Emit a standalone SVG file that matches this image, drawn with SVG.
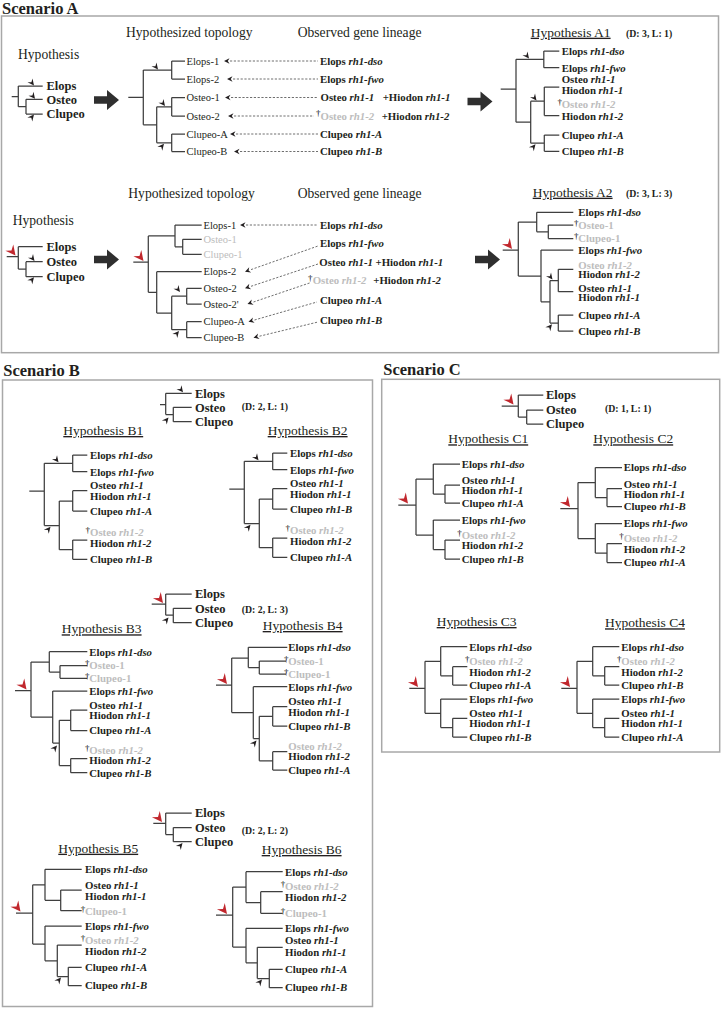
<svg xmlns="http://www.w3.org/2000/svg" xmlns:xlink="http://www.w3.org/1999/xlink" width="721" height="1009" viewBox="0 0 721 1009">
<style>
text{font-family:"Liberation Serif","Times New Roman",serif;fill:#231f20}
.sec{font-size:16.5px;font-weight:bold}
.hd{font-size:13.6px}
.hy{font-size:13.5px;text-decoration:underline}
.sp{font-size:12.5px;font-weight:bold}
.lf{font-size:10.8px;font-weight:bold}
.tp{font-size:10.5px}
.dl{font-size:9.8px;font-weight:bold}
.dg{font-size:9px;fill:#000000}
.it{font-style:italic}
text.g,.g{fill:#bdbdbd}
.t{fill:none;stroke:#3f3f3f;stroke-width:1.25}
.box{fill:none;stroke:#a8a8a8;stroke-width:1.5}
.dash{fill:none;stroke:#4a4a4a;stroke-width:0.8;stroke-dasharray:2.2 1.6}
</style>
<defs>
<path id="ah" d="M0,0 L-6.5,-3.2 L-4.2,0 L-6.5,3.2 Z" fill="#231f20"/>
<path id="rah" d="M0,0 L-10,-5 L-6.5,0 L-10,5 Z" fill="#c1272d"/>
<path id="pa" d="M0,0 L5.5,-2.8 L3.8,0 L5.5,2.8 Z" fill="#231f20"/>
<path id="fat" d="M0,-3.8 H13 V-10 L25,0 L13,10 V3.8 H0 Z" fill="#2f2f2f"/>
</defs>
<rect width="721" height="1009" fill="#ffffff"/>

<g id="frames">
<rect class="box" x="1.5" y="16" width="717" height="336.7"/>
<rect class="box" x="2.5" y="380" width="370" height="626.5"/>
<rect class="box" x="381.7" y="379.3" width="338" height="372.7"/>
<text class="sec" x="2" y="13.8">Scenario A</text>
<text class="sec" x="3.3" y="376">Scenario B</text>
<text class="sec" x="383.3" y="375">Scenario C</text>
</g>

<!-- ===== Scenario A, row 1 ===== -->
<g id="a1-hypothesis">
<text class="hd" x="18" y="59.3">Hypothesis</text>
<path class="t" d="M11.7,96.5 H18.3 M18.3,86 V106.7 M18.3,86 H42.7 M18.3,106.7 H26 M26,99.3 V114 M26,99.3 H42.7 M26,114 H42.7"/>
<text class="sp" x="46.5" y="90.3">Elops</text>
<text class="sp" x="46.5" y="103.6">Osteo</text>
<text class="sp" x="46.5" y="118.3">Clupeo</text>
<use href="#ah" transform="translate(34,85.5) rotate(52)"/>
<use href="#ah" transform="translate(35,98.8) rotate(52)"/>
<use href="#ah" transform="translate(34,114.5) rotate(-50)"/>
</g>

<g id="a1-topology">
<text class="hd" x="126" y="37.3">Hypothesized topology</text>
<path class="t" d="M128.3,97.4 H143.3 M143.3,70 V124.75 M143.3,70 H171.7 M171.7,61 V79 M171.7,61 H185 M171.7,79 H185 M143.3,124.75 H156.7 M156.7,106.75 V142.75 M156.7,106.75 H171.7 M171.7,97.5 V116 M171.7,97.5 H185 M171.7,116 H185 M156.7,142.75 H171.7 M171.7,134 V151.5 M171.7,134 H185 M171.7,151.5 H185"/>
<text class="tp" x="186.5" y="64.6">Elops-1</text>
<text class="tp" x="186.5" y="82.6">Elops-2</text>
<text class="tp" x="186.5" y="101.1">Osteo-1</text>
<text class="tp" x="186.5" y="119.6">Osteo-2</text>
<text class="tp" x="186.5" y="137.6">Clupeo-A</text>
<text class="tp" x="186.5" y="155.1">Clupeo-B</text>
<use href="#ah" transform="translate(158,69.5) rotate(52)"/>
<use href="#ah" transform="translate(165,106) rotate(52)"/>
<use href="#ah" transform="translate(164,143.8) rotate(-50)"/>
</g>

<g id="a1-observed">
<text class="hd" x="297.7" y="37.3">Observed gene lineage</text>
<text class="lf" x="320" y="64.8">Elops <tspan class="it">rh1-dso</tspan></text>
<text class="lf" x="320" y="82.8">Elops <tspan class="it">rh1-fwo</tspan></text>
<text class="lf" x="320.5" y="101.3">Osteo <tspan class="it">rh1-1</tspan></text>
<text class="lf" x="382.7" y="101.3">+Hiodon <tspan class="it">rh1-1</tspan></text>
<text class="dg" x="316" y="116">†</text>
<text class="lf g" x="320.5" y="119.8">Osteo <tspan class="it">rh1-2</tspan></text>
<text class="lf" x="381.7" y="119.8">+Hiodon <tspan class="it">rh1-2</tspan></text>
<text class="lf" x="320" y="137.8">Clupeo <tspan class="it">rh1-A</tspan></text>
<text class="lf" x="320" y="155.3">Clupeo <tspan class="it">rh1-B</tspan></text>
</g>

<g id="a1-result">
<text class="hy" x="530.7" y="36.7">Hypothesis A1</text>
<text class="dl" x="626" y="36.7">(D: 3, L: 1)</text>
<path class="t" d="M500.7,89 H516 M516,59.3 V122.2 M516,59.3 H543.8 M543.8,51 V67.7 M543.8,51 H559.3 M543.8,67.7 H559.3 M516,122.2 H530.7 M530.7,101.2 V143.2 M530.7,101.2 H544.3 M544.3,87 V115.5 M544.3,87 H559.3 M544.3,115.5 H559.3 M530.7,143.2 H544.3 M544.3,135 V151.3 M544.3,135 H559.3 M544.3,151.3 H559.3"/>
<text class="lf" x="561.7" y="54.8">Elops <tspan class="it">rh1-dso</tspan></text>
<text class="lf" x="561.7" y="71.5">Elops <tspan class="it">rh1-fwo</tspan></text>
<text class="lf" x="561.7" y="83.3">Osteo <tspan class="it">rh1-1</tspan></text>
<text class="lf" x="561.7" y="94">Hiodon <tspan class="it">rh1-1</tspan></text>
<text class="dg" x="557.4" y="105">†</text>
<text class="lf g" x="561.7" y="108.3">Osteo <tspan class="it">rh1-2</tspan></text>
<text class="lf" x="561.7" y="120">Hiodon <tspan class="it">rh1-2</tspan></text>
<text class="lf" x="561.7" y="138.8">Clupeo <tspan class="it">rh1-A</tspan></text>
<text class="lf" x="561.7" y="155">Clupeo <tspan class="it">rh1-B</tspan></text>
<use href="#ah" transform="translate(529,58.5) rotate(52)"/>
<use href="#ah" transform="translate(536.5,100.5) rotate(52)"/>
<use href="#ah" transform="translate(535.5,144.3) rotate(-50)"/>
</g>

<!-- ===== Scenario A, row 2 ===== -->
<g id="a2-hypothesis">
<text class="hd" x="12.7" y="225">Hypothesis</text>
<path class="t" d="M6.7,256.5 H18.3 M18.3,246.7 V269 M18.3,246.7 H42.7 M18.3,269 H26 M26,261.7 V276.7 M26,261.7 H42.7 M26,276.7 H42.7"/>
<text class="sp" x="46.5" y="251">Elops</text>
<text class="sp" x="46.5" y="265.6">Osteo</text>
<text class="sp" x="46.5" y="280.6">Clupeo</text>
<use href="#rah" transform="translate(15.5,255.5) rotate(52)"/>
<use href="#ah" transform="translate(34.5,261) rotate(52)"/>
<use href="#ah" transform="translate(34,277.3) rotate(-50)"/>
</g>

<g id="a2-topology">
<text class="hd" x="128.3" y="197.7">Hypothesized topology</text>
<path class="t" d="M133.3,262 H148.3 M148.3,235.9 V292.3 M148.3,235.9 H175 M175,225 V246.8 M175,225 H201.7 M175,246.8 H182.7 M182.7,239.3 V254.3 M182.7,239.3 H201.7 M182.7,254.3 H201.7 M148.3,292.3 H156.7 M156.7,271.7 V313 M156.7,271.7 H201.7 M156.7,313 H171.7 M171.7,296.2 V329.7 M171.7,296.2 H186.7 M186.7,288.3 V304 M186.7,288.3 H201.7 M186.7,304 H201.7 M171.7,329.7 H186.7 M186.7,321.7 V337.7 M186.7,321.7 H201.7 M186.7,337.7 H201.7"/>
<text class="tp" x="203.5" y="228.6">Elops-1</text>
<text class="tp g" x="203.5" y="242.9">Osteo-1</text>
<text class="tp g" x="203.5" y="257.9">Clupeo-1</text>
<text class="tp" x="203.5" y="275.3">Elops-2</text>
<text class="tp" x="203.5" y="291.9">Osteo-2</text>
<text class="tp" x="203.5" y="307.6">Osteo-2'</text>
<text class="tp" x="203.5" y="325.3">Clupeo-A</text>
<text class="tp" x="203.5" y="341.3">Clupeo-B</text>
<use href="#rah" transform="translate(143.5,261) rotate(52)"/>
<use href="#ah" transform="translate(180,292) rotate(52)"/>
<use href="#ah" transform="translate(179,331) rotate(-50)"/>
</g>

<g id="a2-observed">
<text class="hd" x="297.7" y="197.7">Observed gene lineage</text>
<text class="lf" x="320" y="228.8">Elops <tspan class="it">rh1-dso</tspan></text>
<text class="lf" x="320" y="247.3">Elops <tspan class="it">rh1-fwo</tspan></text>
<text class="lf" x="319.3" y="265.8">Osteo <tspan class="it">rh1-1</tspan></text>
<text class="lf" x="375.5" y="265.8">+Hiodon <tspan class="it">rh1-1</tspan></text>
<text class="dg" x="308" y="280.5">†</text>
<text class="lf g" x="312.7" y="284.3">Osteo <tspan class="it">rh1-2</tspan></text>
<text class="lf" x="373.3" y="284.3">+Hiodon <tspan class="it">rh1-2</tspan></text>
<text class="lf" x="320" y="303.8">Clupeo <tspan class="it">rh1-A</tspan></text>
<text class="lf" x="320" y="323.8">Clupeo <tspan class="it">rh1-B</tspan></text>
</g>

<g id="a2-result">
<text class="hy" x="532.7" y="196.7">Hypothesis A2</text>
<text class="dl" x="626" y="196.7">(D: 3, L: 3)</text>
<path class="t" d="M502.7,250 H518.3 M518.3,222 V276 M518.3,222 H536.7 M536.7,212.3 V231.75 M536.7,212.3 H573.3 M536.7,231.75 H548.3 M548.3,225 V238.5 M548.3,225 H573.3 M548.3,238.5 H573.3 M518.3,276 H541 M541,250 V301.75 M541,250 H573.3 M541,301.75 H550 M550,280.5 V323 M550,280.5 H558.3 M558.3,269.3 V291.7 M558.3,269.3 H573.3 M558.3,291.7 H573.3 M550,323 H558.3 M558.3,315 V331 M558.3,315 H573.3 M558.3,331 H573.3"/>
<text class="lf" x="578.3" y="216">Elops <tspan class="it">rh1-dso</tspan></text>
<text class="dg" x="574" y="225.5">†</text>
<text class="lf g" x="578.3" y="228.8">Osteo-1</text>
<text class="dg" x="574" y="239">†</text>
<text class="lf g" x="578.3" y="242.3">Clupeo-1</text>
<text class="lf" x="578.3" y="253.8">Elops <tspan class="it">rh1-fwo</tspan></text>
<text class="lf g" x="578.3" y="268.6">Osteo <tspan class="it">rh1-2</tspan></text>
<text class="lf" x="578.3" y="278">Hiodon <tspan class="it">rh1-2</tspan></text>
<text class="lf" x="578.3" y="291.8">Osteo <tspan class="it">rh1-1</tspan></text>
<text class="lf" x="578.3" y="301.2">Hiodon <tspan class="it">rh1-1</tspan></text>
<text class="lf" x="578.3" y="318.8">Clupeo <tspan class="it">rh1-A</tspan></text>
<text class="lf" x="578.3" y="334.8">Clupeo <tspan class="it">rh1-B</tspan></text>
<use href="#rah" transform="translate(512,249) rotate(52)"/>
<use href="#ah" transform="translate(552.5,279.5) rotate(52)"/>
<use href="#ah" transform="translate(552,324.3) rotate(-50)"/>
</g>

<g id="connectors">
<use href="#fat" transform="translate(94,100)"/>
<use href="#fat" transform="translate(467.5,101.5)"/>
<use href="#fat" transform="translate(94,259.5)"/>
<use href="#fat" transform="translate(475,259.5)"/>
<use href="#pa" transform="translate(224,61)"/>
<use href="#pa" transform="translate(227,79)"/>
<use href="#pa" transform="translate(225,97.5)"/>
<use href="#pa" transform="translate(228,116)"/>
<use href="#pa" transform="translate(230,134)"/>
<use href="#pa" transform="translate(234,151.5)"/>
<path class="dash" d="M230,61 H318 M233,79 H318 M231,97.5 H318 M234,116 H314 M236,134 H318 M240,151.5 H318"/>
<use href="#pa" transform="translate(240,225)"/>
<use href="#pa" transform="translate(245,271.7) rotate(-20)"/>
<use href="#pa" transform="translate(245,288.3) rotate(-19)"/>
<use href="#pa" transform="translate(247.5,304) rotate(-20)"/>
<use href="#pa" transform="translate(248.5,321.7) rotate(-17)"/>
<use href="#pa" transform="translate(253.5,337.7) rotate(-15)"/>
<path class="dash" d="M246,225 H317 M251,269.6 L318,246 M251,286.3 L318,264 M253.5,302 L311,282.5 M254.5,320 L317,302 M259.5,336.2 L318,322"/>
</g>

<!-- ===== Scenario B ===== -->
<g id="b-species-1">
<path class="t" d="M160,404.5 H165.7 M165.7,393.3 V414.5 M165.7,393.3 H191.7 M165.7,414.5 H173.3 M173.3,407.3 V421.7 M173.3,407.3 H191.7 M173.3,421.7 H191.7"/>
<text class="sp" x="195" y="397.5">Elops</text>
<text class="sp" x="195" y="411.5">Osteo</text>
<text class="sp" x="195" y="426">Clupeo</text>
<text class="dl" x="241.7" y="409.5">(D: 2, L: 1)</text>
<use href="#ah" transform="translate(183,392.3) rotate(52)"/>
<use href="#ah" transform="translate(168.5,417.5) rotate(-50)"/>
</g>

<g id="b1">
<text class="hy" x="63.3" y="435">Hypothesis B1</text>
<path class="t" d="M29.3,491 H44.3 M44.3,463.3 V525.5 M44.3,463.3 H72.7 M72.7,455 V471.7 M72.7,455 H87.3 M72.7,471.7 H87.3 M44.3,525.5 H59.3 M59.3,501 V549.7 M59.3,501 H72.7 M72.7,490.7 V511 M72.7,490.7 H87.3 M72.7,511 H87.3 M59.3,549.7 H72.7 M72.7,540 V559.3 M72.7,540 H87.3 M72.7,559.3 H87.3"/>
<text class="lf" x="90" y="458.8">Elops <tspan class="it">rh1-dso</tspan></text>
<text class="lf" x="90" y="475.5">Elops <tspan class="it">rh1-fwo</tspan></text>
<text class="lf" x="90" y="488.6">Osteo <tspan class="it">rh1-1</tspan></text>
<text class="lf" x="90" y="500.4">Hiodon <tspan class="it">rh1-1</tspan></text>
<text class="lf" x="90" y="514.8">Clupeo <tspan class="it">rh1-A</tspan></text>
<text class="dg" x="85.6" y="533.3">†</text>
<text class="lf g" x="90" y="536.3">Osteo <tspan class="it">rh1-2</tspan></text>
<text class="lf" x="90" y="547.3">Hiodon <tspan class="it">rh1-2</tspan></text>
<text class="lf" x="90" y="563.1">Clupeo <tspan class="it">rh1-B</tspan></text>
<use href="#ah" transform="translate(58.5,462.3) rotate(52)"/>
<use href="#ah" transform="translate(50.5,526.8) rotate(-50)"/>
</g>

<g id="b2">
<text class="hy" x="267.7" y="435">Hypothesis B2</text>
<g transform="translate(200,-2)">
<path class="t" d="M29.3,491 H44.3 M44.3,463.3 V525.5 M44.3,463.3 H72.7 M72.7,455 V471.7 M72.7,455 H87.3 M72.7,471.7 H87.3 M44.3,525.5 H59.3 M59.3,501 V549.7 M59.3,501 H72.7 M72.7,490.7 V511 M72.7,490.7 H87.3 M72.7,511 H87.3 M59.3,549.7 H72.7 M72.7,540 V559.3 M72.7,540 H87.3 M72.7,559.3 H87.3"/>
<text class="lf" x="90" y="458.8">Elops <tspan class="it">rh1-dso</tspan></text>
<text class="lf" x="90" y="475.5">Elops <tspan class="it">rh1-fwo</tspan></text>
<text class="lf" x="90" y="488.6">Osteo <tspan class="it">rh1-1</tspan></text>
<text class="lf" x="90" y="500.4">Hiodon <tspan class="it">rh1-1</tspan></text>
<text class="lf" x="90" y="514.8">Clupeo <tspan class="it">rh1-B</tspan></text>
<text class="dg" x="85.6" y="533.3">†</text>
<text class="lf g" x="90" y="536.3">Osteo <tspan class="it">rh1-2</tspan></text>
<text class="lf" x="90" y="547.3">Hiodon <tspan class="it">rh1-2</tspan></text>
<text class="lf" x="90" y="563.1">Clupeo <tspan class="it">rh1-A</tspan></text>
<use href="#ah" transform="translate(58.5,462.3) rotate(52)"/>
<use href="#ah" transform="translate(50.5,526.8) rotate(-50)"/>
</g>
</g>

<g id="b-species-2">
<path class="t" d="M151.7,604 H165.7 M165.7,594 V615.2 M165.7,594 H191.7 M165.7,615.2 H173.3 M173.3,608.3 V622.7 M173.3,608.3 H191.7 M173.3,622.7 H191.7"/>
<text class="sp" x="195" y="598.2">Elops</text>
<text class="sp" x="195" y="612.5">Osteo</text>
<text class="sp" x="195" y="627">Clupeo</text>
<text class="dl" x="241.7" y="612.5">(D: 2, L: 3)</text>
<use href="#rah" transform="translate(163,603) rotate(52)"/>
<use href="#ah" transform="translate(168.5,617.5) rotate(-50)"/>
</g>

<g id="b3">
<text class="hy" x="61.7" y="633.3">Hypothesis B3</text>
<path class="t" d="M15,690.5 H31 M31,662 V717 M31,662 H49.3 M49.3,651.7 V672 M49.3,651.7 H87.3 M49.3,672 H60 M60,665.5 V678.3 M60,665.5 H87.3 M60,678.3 H87.3 M31,717 H52.7 M52.7,691 V743 M52.7,691 H87.3 M52.7,743 H59.3 M59.3,720.3 V765.6 M59.3,720.3 H70.7 M70.7,710 V730.5 M70.7,710 H87.3 M70.7,730.5 H87.3 M59.3,765.6 H70.7 M70.7,758.5 V772.7 M70.7,758.5 H87.3 M70.7,772.7 H87.3"/>
<text class="lf" x="89.3" y="655.5">Elops <tspan class="it">rh1-dso</tspan></text>
<text class="dg" x="85" y="666.3">†</text>
<text class="lf g" x="89.3" y="669.3">Osteo-1</text>
<text class="dg" x="85" y="679">†</text>
<text class="lf g" x="89.3" y="682.1">Clupeo-1</text>
<text class="lf" x="89.3" y="694.8">Elops <tspan class="it">rh1-fwo</tspan></text>
<text class="lf" x="89.3" y="708.6">Osteo <tspan class="it">rh1-1</tspan></text>
<text class="lf" x="89.3" y="719">Hiodon <tspan class="it">rh1-1</tspan></text>
<text class="lf" x="89.3" y="734.3">Clupeo <tspan class="it">rh1-A</tspan></text>
<text class="dg" x="85" y="750.6">†</text>
<text class="lf g" x="89.3" y="753.6">Osteo <tspan class="it">rh1-2</tspan></text>
<text class="lf" x="89.3" y="764">Hiodon <tspan class="it">rh1-2</tspan></text>
<text class="lf" x="89.3" y="776.5">Clupeo <tspan class="it">rh1-B</tspan></text>
<use href="#rah" transform="translate(26.5,689.5) rotate(52)"/>
<use href="#ah" transform="translate(57,745.5) rotate(-50)"/>
</g>

<g id="b4">
<text class="hy" x="262.7" y="630">Hypothesis B4</text>
<path class="t" d="M216,685 H231.7 M231.7,658 V712.6 M231.7,658 H248.3 M248.3,647.3 V667.5 M248.3,647.3 H287.3 M248.3,667.5 H259.3 M259.3,661 V674 M259.3,661 H286 M259.3,674 H286 M231.7,712.6 H253.3 M253.3,686.7 V738.5 M253.3,686.7 H287.3 M253.3,738.5 H259.3 M259.3,716.3 V760.8 M259.3,716.3 H272.7 M272.7,706.7 V726 M272.7,706.7 H287.3 M272.7,726 H287.3 M259.3,760.8 H272.7 M272.7,751.7 V770 M272.7,751.7 H287.3 M272.7,770 H287.3"/>
<text class="lf" x="288.3" y="651.1">Elops <tspan class="it">rh1-dso</tspan></text>
<text class="dg" x="284" y="662">†</text>
<text class="lf g" x="288.3" y="664.8">Osteo-1</text>
<text class="dg" x="284" y="675">†</text>
<text class="lf g" x="288.3" y="677.8">Clupeo-1</text>
<text class="lf" x="288.3" y="690.5">Elops <tspan class="it">rh1-fwo</tspan></text>
<text class="lf" x="288.3" y="705.3">Osteo <tspan class="it">rh1-1</tspan></text>
<text class="lf" x="288.3" y="715.5">Hiodon <tspan class="it">rh1-1</tspan></text>
<text class="lf" x="288.3" y="729.8">Clupeo <tspan class="it">rh1-B</tspan></text>
<text class="lf g" x="288.3" y="750">Osteo <tspan class="it">rh1-2</tspan></text>
<text class="lf" x="288.3" y="760">Hiodon <tspan class="it">rh1-2</tspan></text>
<text class="lf" x="288.3" y="773.8">Clupeo <tspan class="it">rh1-A</tspan></text>
<use href="#rah" transform="translate(227,684) rotate(52)"/>
<use href="#ah" transform="translate(256.5,740.5) rotate(-50)"/>
</g>

<g id="b-species-3">
<path class="t" d="M153.3,823.3 H165.7 M165.7,813 V834.5 M165.7,813 H191.7 M165.7,834.5 H173.3 M173.3,827.5 V841.7 M173.3,827.5 H191.7 M173.3,841.7 H191.7"/>
<text class="sp" x="195" y="817.2">Elops</text>
<text class="sp" x="195" y="831.7">Osteo</text>
<text class="sp" x="195" y="846">Clupeo</text>
<text class="dl" x="241.7" y="833.5">(D: 2, L: 2)</text>
<use href="#rah" transform="translate(162,822) rotate(52)"/>
<use href="#ah" transform="translate(182.5,843) rotate(-50)"/>
</g>

<g id="b5">
<text class="hy" x="58.3" y="852.7">Hypothesis B5</text>
<path class="t" d="M16,913 H32.7 M32.7,884.8 V944 M32.7,884.8 H45 M45,869.3 V900.3 M45,869.3 H81.7 M45,900.3 H60.7 M60.7,890 V910.7 M60.7,890 H81.7 M60.7,910.7 H81.7 M32.7,944 H45 M45,926 V960.8 M45,926 H81.7 M45,960.8 H57.3 M57.3,945 V976.5 M57.3,945 H81.7 M57.3,976.5 H68.3 M68.3,967.3 V985.7 M68.3,967.3 H81.7 M68.3,985.7 H81.7"/>
<text class="lf" x="85" y="873.1">Elops <tspan class="it">rh1-dso</tspan></text>
<text class="lf" x="85" y="889.1">Osteo <tspan class="it">rh1-1</tspan></text>
<text class="lf" x="85" y="899.5">Hiodon <tspan class="it">rh1-1</tspan></text>
<text class="dg" x="80.7" y="911.5">†</text>
<text class="lf g" x="85" y="914.5">Clupeo-1</text>
<text class="lf" x="85" y="929.8">Elops <tspan class="it">rh1-fwo</tspan></text>
<text class="dg" x="80.7" y="940.6">†</text>
<text class="lf g" x="85" y="943.6">Osteo <tspan class="it">rh1-2</tspan></text>
<text class="lf" x="85" y="954.7">Hiodon <tspan class="it">rh1-2</tspan></text>
<text class="lf" x="85" y="971.1">Clupeo <tspan class="it">rh1-A</tspan></text>
<text class="lf" x="85" y="989.3">Clupeo <tspan class="it">rh1-B</tspan></text>
<use href="#rah" transform="translate(20.5,911.5) rotate(52)"/>
<use href="#ah" transform="translate(61,977.5) rotate(-50)"/>
</g>

<g id="b6">
<text class="hy" x="261.7" y="854">Hypothesis B6</text>
<path class="t" d="M216,915 H232.7 M232.7,887.1 V947 M232.7,887.1 H246 M246,871.7 V902.5 M246,871.7 H282.7 M246,902.5 H260.7 M260.7,891.7 V913.3 M260.7,891.7 H282.7 M260.7,913.3 H282.7 M232.7,947 H246 M246,928.3 V962.8 M246,928.3 H282.7 M246,962.8 H257.3 M257.3,947.3 V978.5 M257.3,947.3 H282.7 M257.3,978.5 H269.3 M269.3,969.3 V987.7 M269.3,969.3 H282.7 M269.3,987.7 H282.7"/>
<text class="lf" x="285" y="875.5">Elops <tspan class="it">rh1-dso</tspan></text>
<text class="dg" x="280.7" y="886.6">†</text>
<text class="lf g" x="285" y="889.6">Osteo <tspan class="it">rh1-2</tspan></text>
<text class="lf" x="285" y="900.7">Hiodon <tspan class="it">rh1-2</tspan></text>
<text class="dg" x="280.7" y="914.1">†</text>
<text class="lf g" x="285" y="917.1">Clupeo-1</text>
<text class="lf" x="285" y="932.1">Elops <tspan class="it">rh1-fwo</tspan></text>
<text class="lf" x="285" y="944.3">Osteo <tspan class="it">rh1-1</tspan></text>
<text class="lf" x="285" y="955.5">Hiodon <tspan class="it">rh1-1</tspan></text>
<text class="lf" x="285" y="973.1">Clupeo <tspan class="it">rh1-A</tspan></text>
<text class="lf" x="285" y="991.3">Clupeo <tspan class="it">rh1-B</tspan></text>
<use href="#rah" transform="translate(227,914) rotate(52)"/>
<use href="#ah" transform="translate(262,979.5) rotate(-50)"/>
</g>

<!-- ===== Scenario C ===== -->
<g id="c-species">
<path class="t" d="M501.7,406 H518.3 M518.3,395 V417 M518.3,395 H543.3 M518.3,417 H526.7 M526.7,410 V424 M526.7,410 H543.3 M526.7,424 H543.3"/>
<text class="sp" x="546" y="399.2">Elops</text>
<text class="sp" x="546" y="414.2">Osteo</text>
<text class="sp" x="546" y="428.2">Clupeo</text>
<text class="dl" x="605" y="412">(D: 1, L: 1)</text>
<use href="#rah" transform="translate(513.5,404.5) rotate(52)"/>
</g>

<g id="c1">
<text class="hy" x="448.3" y="443.3">Hypothesis C1</text>
<path class="t" d="M398.3,505 H416 M416,479 V535 M416,479 H433.3 M433.3,464 V494 M433.3,464 H460 M433.3,494 H445 M445,485 V503 M445,485 H460 M445,503 H460 M416,535 H433.3 M433.3,520 V549.5 M433.3,520 H460 M433.3,549.5 H445 M445,540 V559 M445,540 H460 M445,559 H460"/>
<text class="lf" x="461.7" y="467.8">Elops <tspan class="it">rh1-dso</tspan></text>
<text class="lf" x="461.7" y="484.1">Osteo <tspan class="it">rh1-1</tspan></text>
<text class="lf" x="461.7" y="494">Hiodon <tspan class="it">rh1-1</tspan></text>
<text class="lf" x="461.7" y="506.8">Clupeo <tspan class="it">rh1-A</tspan></text>
<text class="lf" x="461.7" y="523.8">Elops <tspan class="it">rh1-fwo</tspan></text>
<text class="dg" x="457.3" y="535.6">†</text>
<text class="lf g" x="461.7" y="538.6">Osteo <tspan class="it">rh1-2</tspan></text>
<text class="lf" x="461.7" y="549">Hiodon <tspan class="it">rh1-2</tspan></text>
<text class="lf" x="461.7" y="562.8">Clupeo <tspan class="it">rh1-B</tspan></text>
<use href="#rah" transform="translate(408,503.5) rotate(52)"/>
</g>

<g id="c2">
<text class="hy" x="593.3" y="443.3">Hypothesis C2</text>
<g transform="translate(162,3.5)">
<path class="t" d="M398.3,505 H416 M416,479 V535 M416,479 H433.3 M433.3,464 V494 M433.3,464 H460 M433.3,494 H445 M445,485 V503 M445,485 H460 M445,503 H460 M416,535 H433.3 M433.3,520 V549.5 M433.3,520 H460 M433.3,549.5 H445 M445,540 V559 M445,540 H460 M445,559 H460"/>
<text class="lf" x="461.7" y="467.8">Elops <tspan class="it">rh1-dso</tspan></text>
<text class="lf" x="461.7" y="484.1">Osteo <tspan class="it">rh1-1</tspan></text>
<text class="lf" x="461.7" y="494">Hiodon <tspan class="it">rh1-1</tspan></text>
<text class="lf" x="461.7" y="506.8">Clupeo <tspan class="it">rh1-B</tspan></text>
<text class="lf" x="461.7" y="523.8">Elops <tspan class="it">rh1-fwo</tspan></text>
<text class="dg" x="457.3" y="535.6">†</text>
<text class="lf g" x="461.7" y="538.6">Osteo <tspan class="it">rh1-2</tspan></text>
<text class="lf" x="461.7" y="549">Hiodon <tspan class="it">rh1-2</tspan></text>
<text class="lf" x="461.7" y="562.8">Clupeo <tspan class="it">rh1-A</tspan></text>
<use href="#rah" transform="translate(408,503.5) rotate(52)"/>
</g>
</g>

<g id="c3">
<text class="hy" x="436.7" y="626">Hypothesis C3</text>
<path class="t" d="M409.3,688.3 H425 M425,661.3 V713.3 M425,661.3 H440.7 M440.7,646.7 V675.8 M440.7,646.7 H467.3 M440.7,675.8 H452.7 M452.7,666.7 V685 M452.7,666.7 H467.3 M452.7,685 H467.3 M425,713.3 H440.7 M440.7,699 V727.6 M440.7,699 H467.3 M440.7,727.6 H452.7 M452.7,718.3 V737 M452.7,718.3 H467.3 M452.7,737 H467.3"/>
<text class="lf" x="469.3" y="650.5">Elops <tspan class="it">rh1-dso</tspan></text>
<text class="dg" x="464.9" y="662.3">†</text>
<text class="lf g" x="469.3" y="665.3">Osteo <tspan class="it">rh1-2</tspan></text>
<text class="lf" x="469.3" y="675.7">Hiodon <tspan class="it">rh1-2</tspan></text>
<text class="lf" x="469.3" y="688.8">Clupeo <tspan class="it">rh1-A</tspan></text>
<text class="lf" x="469.3" y="702.8">Elops <tspan class="it">rh1-fwo</tspan></text>
<text class="lf" x="469.3" y="717.1">Osteo <tspan class="it">rh1-1</tspan></text>
<text class="lf" x="469.3" y="727">Hiodon <tspan class="it">rh1-1</tspan></text>
<text class="lf" x="469.3" y="740.8">Clupeo <tspan class="it">rh1-B</tspan></text>
<use href="#rah" transform="translate(418,687) rotate(52)"/>
</g>

<g id="c4">
<text class="hy" x="605" y="627.3">Hypothesis C4</text>
<g transform="translate(152,0)">
<path class="t" d="M409.3,688.3 H425 M425,661.3 V713.3 M425,661.3 H440.7 M440.7,646.7 V675.8 M440.7,646.7 H467.3 M440.7,675.8 H452.7 M452.7,666.7 V685 M452.7,666.7 H467.3 M452.7,685 H467.3 M425,713.3 H440.7 M440.7,699 V727.6 M440.7,699 H467.3 M440.7,727.6 H452.7 M452.7,718.3 V737 M452.7,718.3 H467.3 M452.7,737 H467.3"/>
<text class="lf" x="469.3" y="650.5">Elops <tspan class="it">rh1-dso</tspan></text>
<text class="dg" x="464.9" y="662.3">†</text>
<text class="lf g" x="469.3" y="665.3">Osteo <tspan class="it">rh1-2</tspan></text>
<text class="lf" x="469.3" y="675.7">Hiodon <tspan class="it">rh1-2</tspan></text>
<text class="lf" x="469.3" y="688.8">Clupeo <tspan class="it">rh1-B</tspan></text>
<text class="lf" x="469.3" y="702.8">Elops <tspan class="it">rh1-fwo</tspan></text>
<text class="lf" x="469.3" y="717.1">Osteo <tspan class="it">rh1-1</tspan></text>
<text class="lf" x="469.3" y="727">Hiodon <tspan class="it">rh1-1</tspan></text>
<text class="lf" x="469.3" y="740.8">Clupeo <tspan class="it">rh1-A</tspan></text>
<use href="#rah" transform="translate(418,687) rotate(52)"/>
</g>
</g>
</svg>
